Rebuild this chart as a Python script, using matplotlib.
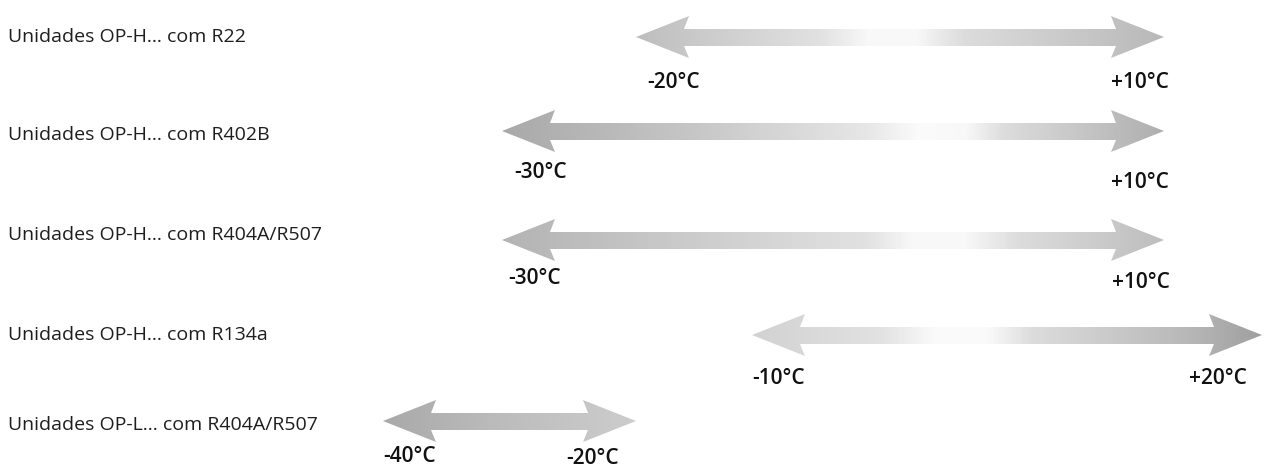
import numpy as np
import matplotlib
matplotlib.use('Agg')
import matplotlib.pyplot as plt
from matplotlib.patches import Polygon

# dados: gamas de temperatura de evaporação
labels = ['Unidades OP-H... com R22',
          'Unidades OP-H... com R402B',
          'Unidades OP-H... com R404A/R507',
          'Unidades OP-H... com R134a',
          'Unidades OP-L... com R404A/R507']
t_min = [-20, -30, -30, -10, -40]
t_max = [10, 10, 10, 20, -20]

# escala esquemática (não linear) do desenho original
temps_ref = [-100, -40, -30, -20, -10, 0, 10, 20, 40]
pos_ref = [-337, 383, 502, 636, 752, 958, 1164, 1262, 1456]

def fwd(t):
    return np.interp(t, temps_ref, pos_ref)

def inv(p):
    return np.interp(p, pos_ref, temps_ref)

# estilo: centro de cada linha (px), posição dos textos e gradiente de cinzento
row_y = [37, 131, 240, 335, 421]
text_y = [37, 135, 235, 335, 425]
lab_dy_left = [45, 41, 38, 43, 35]
lab_dy_right = [45, 52, 43, 43, 38]
lab_dx_left = [11, 12, 6, 0, 0]
lab_dx_right = [5, 5, 6, -15, -17]
grad = [
    [(0, 0.74), (0.12, 0.79), (0.35, 0.88), (0.44, 0.97), (0.53, 0.97), (0.62, 0.86), (1, 0.72)],
    [(0, 0.66), (0.3, 0.78), (0.55, 0.9), (0.63, 0.98), (0.7, 0.97), (0.76, 0.86), (1, 0.68)],
    [(0, 0.7), (0.3, 0.8), (0.55, 0.88), (0.62, 0.97), (0.7, 0.97), (0.78, 0.86), (1, 0.74)],
    [(0, 0.82), (0.25, 0.88), (0.36, 0.98), (0.46, 0.98), (0.55, 0.86), (0.85, 0.72), (1, 0.62)],
    [(0, 0.66), (0.5, 0.74), (1, 0.8)],
]
hl, hb, hh, sh = 48, 5, 21, 8.5   # cabeça: comprimento, farpa, meia altura; meia altura da haste

fig = plt.figure(figsize=(12.65, 4.7), dpi=100)
ax = fig.add_axes([0, 0, 1, 1])
ax.set_xscale('function', functions=(fwd, inv))
ax.set_xlim(inv(0), inv(1265))
ax.set_ylim(470, 0)
ax.axis('off')

def fmt(t):
    return '%+d°C' % t if t > 0 else '%d°C' % t

for i in range(len(labels)):
    yc = row_y[i]
    p0, p1 = fwd(t_min[i]), fwd(t_max[i])
    px = [p0, p0 + hl + hb, p0 + hl, p1 - hl, p1 - hl - hb, p1,
          p1 - hl - hb, p1 - hl, p0 + hl, p0 + hl + hb]
    py = [yc, yc - hh, yc - sh, yc - sh, yc - hh, yc,
          yc + hh, yc + sh, yc + sh, yc + hh]
    poly = Polygon(np.column_stack([inv(np.array(px)), py]), closed=True,
                   facecolor='none', edgecolor='none')
    ax.add_patch(poly)

    xe = np.linspace(p0, p1, 300)
    fr = ((xe[:-1] + xe[1:]) / 2 - p0) / (p1 - p0)
    k = np.array(grad[i])
    g = np.interp(fr, k[:, 0], k[:, 1])
    mesh = ax.pcolormesh(inv(xe), [yc - hh, yc + hh], g[None, :], cmap='gray',
                         vmin=0, vmax=1, shading='flat')
    mesh.set_clip_path(poly)

    ax.text(8 / 1265, text_y[i], labels[i], fontsize=14, family='Open Sans',
            color='#1e1e1e', va='center', ha='left',
            transform=ax.get_yaxis_transform())

    ax.annotate(fmt(t_min[i]), xy=(t_min[i], yc + lab_dy_left[i]),
                xytext=(lab_dx_left[i], 0), textcoords='offset pixels',
                ha='left', va='center', fontsize=15, fontweight='semibold',
                family='Open Sans', color='#111111')
    ax.annotate(fmt(t_max[i]), xy=(t_max[i], yc + lab_dy_right[i]),
                xytext=(lab_dx_right[i], 0), textcoords='offset pixels',
                ha='right', va='center', fontsize=15, fontweight='semibold',
                family='Open Sans', color='#111111')

fig.savefig('out.png', dpi=100, facecolor='white')
